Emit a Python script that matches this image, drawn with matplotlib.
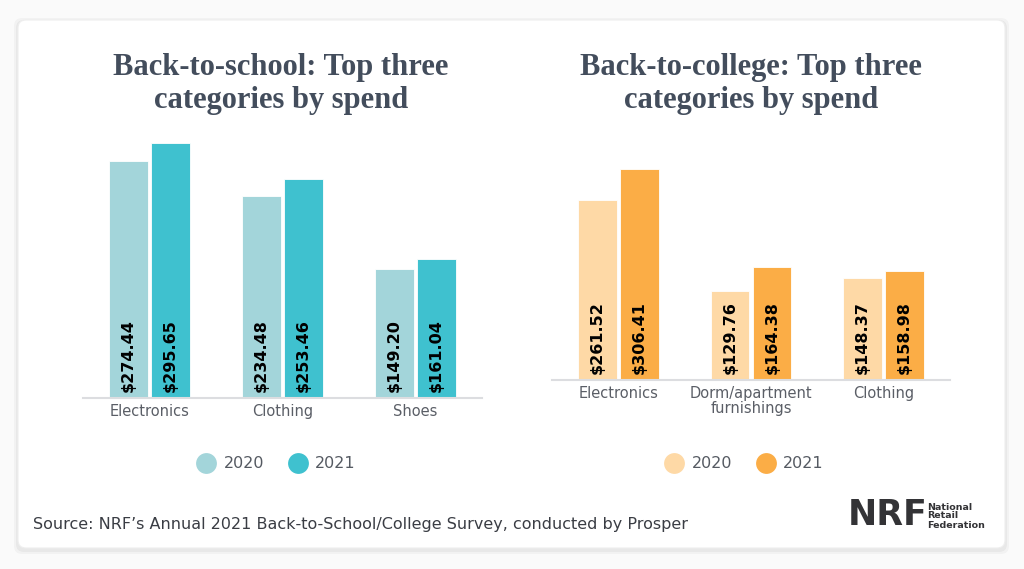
import matplotlib.pyplot as plt
from matplotlib.patches import FancyBboxPatch
from matplotlib.lines import Line2D

school_cats = ["Electronics", "Clothing", "Shoes"]
school_2020 = [274.44, 234.48, 149.20]
school_2021 = [295.65, 253.46, 161.04]

college_cats = ["Electronics", "Dorm/apartment\nfurnishings", "Clothing"]
college_2020 = [261.52, 129.76, 148.37]
college_2021 = [306.41, 164.38, 158.98]

years = ["2020", "2021"]

W, H = 1024, 569
fig = plt.figure(figsize=(W / 100, H / 100), dpi=100)
fig.patch.set_facecolor("#fafafa")

# card background
bg = fig.add_axes([0, 0, 1, 1])
bg.set_xlim(0, W)
bg.set_ylim(H, 0)
bg.axis("off")
for off, a in [(4, 0.03), (2, 0.04)]:
    bg.add_patch(FancyBboxPatch((18 - off, 20 - off + 2), 987 + 2 * off, 528 + 2 * off,
                                boxstyle="round,pad=0,rounding_size=8",
                                facecolor="black", alpha=a, edgecolor="none"))
bg.add_patch(FancyBboxPatch((18, 20), 987, 528, boxstyle="round,pad=0,rounding_size=8",
                            facecolor="white", edgecolor="#eeeeee", linewidth=0.8))


def px_axes(x0, x1, base, top):
    return fig.add_axes([x0 / W, 1 - base / H, (x1 - x0) / W, (base - top) / H])


def draw_panel(ax, cats, v20, v21, c20, c21, scale, height_px):
    xs = list(range(len(cats)))
    w = 0.293
    off = 0.158
    ax.bar([x - off for x in xs], v20, width=w, color=c20, edgecolor="white", linewidth=0.6)
    ax.bar([x + off for x in xs], v21, width=w, color=c21, edgecolor="white", linewidth=0.6)
    for x, v in zip(xs, v20):
        ax.text(x - off, 6.5 / scale, f"${v:.2f}", rotation=90, ha="center", va="bottom",
                fontsize=11.5, fontweight="heavy", color="black")
    for x, v in zip(xs, v21):
        ax.text(x + off, 6.5 / scale, f"${v:.2f}", rotation=90, ha="center", va="bottom",
                fontsize=11.5, fontweight="heavy", color="black")
    ax.set_xlim(-0.5, 2.5)
    ax.set_ylim(0, height_px / scale)
    for s in ["top", "right", "left"]:
        ax.spines[s].set_visible(False)
    ax.spines["bottom"].set_color("#dcdde0")
    ax.spines["bottom"].set_linewidth(1.5)
    ax.set_yticks([])
    ax.set_xticks(xs)
    ax.set_xticklabels(cats, fontsize=10.5, color="#5a5e66", linespacing=1.0)
    ax.tick_params(axis="x", length=0, pad=4)
    ax.patch.set_alpha(0)


ax1 = px_axes(83, 482, 398, 130)
draw_panel(ax1, school_cats, school_2020, school_2021, "#a3d5da", "#3fc1cf", 0.863, 268)
ax2 = px_axes(552, 950, 380, 150)
draw_panel(ax2, college_cats, college_2020, college_2021, "#fed9a6", "#fbad46", 0.688, 230)

title_kw = dict(ha="center", va="center", fontsize=22, fontweight="bold",
                color="#434d5c", family="Liberation Serif", linespacing=1.2)
fig.text(281 / W, 1 - 84 / H, "Back-to-school: Top three\ncategories by spend", **title_kw)
fig.text(751 / W, 1 - 84 / H, "Back-to-college: Top three\ncategories by spend", **title_kw)


def legend(cx, c20, c21):
    handles = [Line2D([], [], marker="o", linestyle="none", markersize=15,
                      markerfacecolor=c, markeredgecolor="none") for c in (c20, c21)]
    fig.legend(handles, years, loc="center", bbox_to_anchor=(cx / W, 1 - 464 / H),
               ncol=2, frameon=False, fontsize=11.5, labelcolor="#555a62",
               handletextpad=0.6, columnspacing=1.6, handlelength=1.0)


legend(277, "#a3d5da", "#3fc1cf")
legend(745, "#fed9a6", "#fbad46")

fig.text(33 / W, 1 - 525 / H,
         "Source: NRF\u2019s Annual 2021 Back-to-School/College Survey, conducted by Prosper",
         ha="left", va="center", fontsize=11.5, color="#3a3d44")

fig.text(848 / W, 1 - 515 / H, "NRF", ha="left", va="center", fontsize=25,
         fontweight="heavy", color="#333336", family="Liberation Sans Narrow")
fig.text(927 / W, 1 - 516 / H, "National\nRetail\nFederation", ha="left", va="center",
         fontsize=6.8, fontweight="bold", color="#333336", linespacing=1.0)

fig.savefig("out.png", dpi=100, facecolor=fig.get_facecolor())
